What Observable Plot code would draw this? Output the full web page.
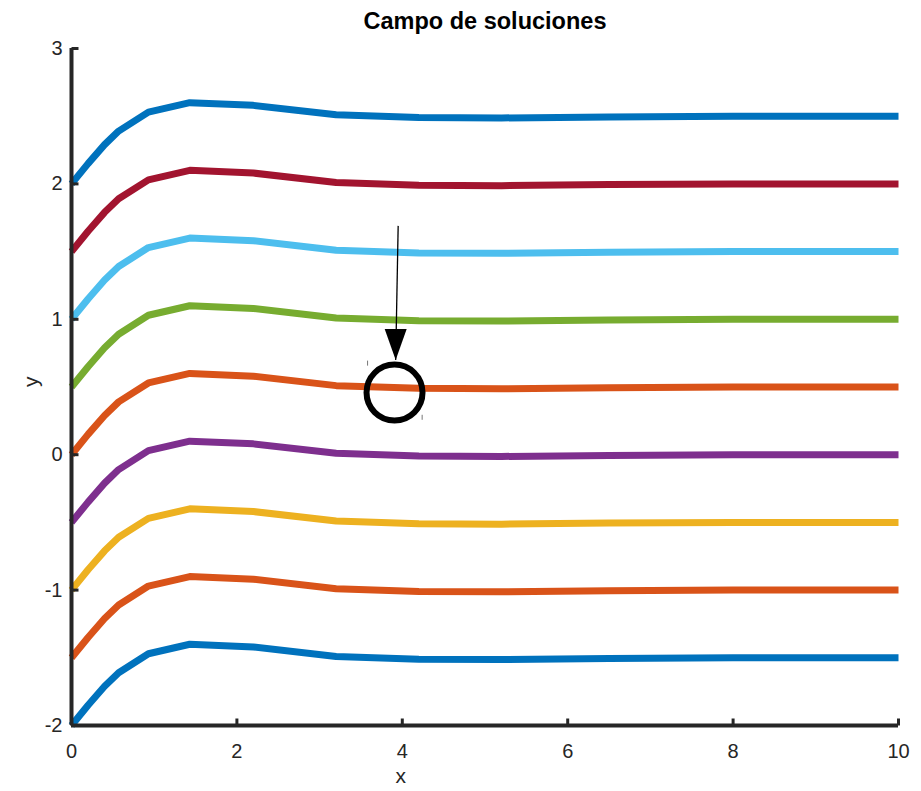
<!DOCTYPE html>
<html>
<head>
<meta charset="utf-8">
<script src="https://cdn.jsdelivr.net/npm/d3@7"></script>
<script src="https://cdn.jsdelivr.net/npm/@observablehq/plot@0.6"></script>
<style>
  html, body { margin: 0; padding: 0; background: #fff; }
  #chart svg { display: block; }
</style>
</head>
<body>
<div id="chart"></div>
<script>
// ---- Data ----
const title = "Campo de soluciones";
const xs = [0, 0.2, 0.4, 0.57, 0.93, 1.43, 2.2, 3.2, 4.2, 5.2, 6.5, 8, 10];

const s1 = [-2, -1.85, -1.71, -1.61, -1.47, -1.40, -1.42, -1.49, -1.51, -1.513, -1.505, -1.5, -1.5];
const s2 = [-1.5, -1.35, -1.21, -1.11, -0.97, -0.90, -0.92, -0.99, -1.01, -1.013, -1.005, -1.0, -1.0];
const s3 = [-1, -0.85, -0.71, -0.61, -0.47, -0.40, -0.42, -0.49, -0.51, -0.513, -0.505, -0.5, -0.5];
const s4 = [-0.5, -0.35, -0.21, -0.11, 0.03, 0.10, 0.08, 0.01, -0.01, -0.013, -0.005, 0, 0];
const s5 = [0, 0.15, 0.29, 0.39, 0.53, 0.60, 0.58, 0.51, 0.49, 0.487, 0.495, 0.5, 0.5];
const s6 = [0.5, 0.65, 0.79, 0.89, 1.03, 1.10, 1.08, 1.01, 0.99, 0.987, 0.995, 1, 1];
const s7 = [1, 1.15, 1.29, 1.39, 1.53, 1.60, 1.58, 1.51, 1.49, 1.487, 1.495, 1.5, 1.5];
const s8 = [1.5, 1.65, 1.79, 1.89, 2.03, 2.10, 2.08, 2.01, 1.99, 1.987, 1.995, 2, 2];
const s9 = [2, 2.15, 2.29, 2.39, 2.53, 2.60, 2.58, 2.51, 2.49, 2.487, 2.495, 2.5, 2.5];

const seriesValues = [s1, s2, s3, s4, s5, s6, s7, s8, s9];
const seriesColors = ["#0072BD", "#D95319", "#EDB120", "#7E2F8E", "#D95319", "#77AC30", "#4DBEEE", "#A2142F", "#0072BD"];

const xTicks = [0, 2, 4, 6, 8, 10];
const yTicks = [-2, -1, 0, 1, 2, 3];
const xDomain = [0, 10];
const yDomain = [-2, 3];

// annotation (data coordinates)
const arrowFrom = [3.95, 1.69];
const arrowTo = [3.92, 0.70];
const circleAt = [3.906, 0.459];
const handleMarks = [[3.58, 0.68], [4.24, 0.28]];
const xLabelAt = 3.98;

// ---- Build table ----
const rows = [];
seriesValues.forEach((vals, i) => {
  vals.forEach((v, j) => rows.push({x: xs[j], y: v, k: i}));
});

const axisColor = "#262626";
const hTick = {draw(ctx) { ctx.moveTo(0, 0); ctx.lineTo(7, 0); }};
const vTick = {draw(ctx) { ctx.moveTo(0, 0); ctx.lineTo(0, -7); }};
const smallTick = {draw(ctx) { ctx.moveTo(0, -2); ctx.lineTo(0, 3); }};
const arrowHead = {draw(ctx) { ctx.moveTo(0, 0); ctx.lineTo(-11, -31); ctx.lineTo(11, -31); ctx.closePath(); }};
const fmt = d => String(d);

const chart = Plot.plot({
  width: 921,
  height: 791,
  marginLeft: 71,
  marginRight: 23,
  marginTop: 48,
  marginBottom: 66,
  style: {fontFamily: "'Liberation Sans', Arial, Helvetica, sans-serif", fontSize: "20px", color: axisColor, background: "#fff"},
  x: {domain: xDomain, nice: false},
  y: {domain: yDomain, nice: false},
  marks: [
    Plot.axisX(xTicks, {tickSize: 0, tickPadding: 18, fontSize: 20, label: null, fill: axisColor, tickFormat: fmt}),
    Plot.axisY(yTicks, {tickSize: 0, tickPadding: 9, fontSize: 20, label: null, fill: axisColor, tickFormat: fmt}),
    Plot.line(rows, {
      x: "x", y: "y", z: "k",
      stroke: d => seriesColors[d.k],
      strokeWidth: 7,
      strokeLinecap: "butt",
      strokeLinejoin: "round",
      curve: "linear"
    }),
    Plot.ruleX([xDomain[0]], {stroke: axisColor, strokeWidth: 4}),
    Plot.ruleY([yDomain[0]], {stroke: axisColor, strokeWidth: 4, x1: xDomain[0], x2: xDomain[1]}),
    Plot.dot(yTicks, {x: xDomain[0], y: d => d, symbol: hTick, stroke: axisColor, strokeWidth: 3, fill: "none"}),
    Plot.dot(xTicks, {x: d => d, y: yDomain[0], symbol: vTick, stroke: axisColor, strokeWidth: 3, fill: "none"}),
    // annotation
    Plot.link([0], {x1: arrowFrom[0], y1: arrowFrom[1], x2: arrowTo[0], y2: arrowTo[1], stroke: "#000", strokeWidth: 1.3}),
    Plot.dot([0], {x: arrowTo[0], y: arrowTo[1], symbol: arrowHead, fill: "#000", stroke: "none"}),
    Plot.dot([0], {x: circleAt[0], y: circleAt[1], r: 28, stroke: "#000", strokeWidth: 6, fill: "none"}),
    Plot.dot(handleMarks, {x: d => d[0], y: d => d[1], symbol: smallTick, stroke: "#777", strokeWidth: 1, fill: "none"}),
    // labels
    Plot.text([title], {frameAnchor: "top", lineAnchor: "middle", dy: -27, fontSize: 23.5, fontWeight: "bold", fill: "#000"}),
    Plot.text(["x"], {x: xLabelAt, frameAnchor: "bottom", lineAnchor: "middle", dy: 51, fontSize: 21, fill: axisColor}),
    Plot.text(["y"], {frameAnchor: "left", lineAnchor: "middle", dx: -40, rotate: -90, fontSize: 21, fill: axisColor})
  ]
});
document.getElementById("chart").appendChild(chart);
</script>
</body>
</html>
